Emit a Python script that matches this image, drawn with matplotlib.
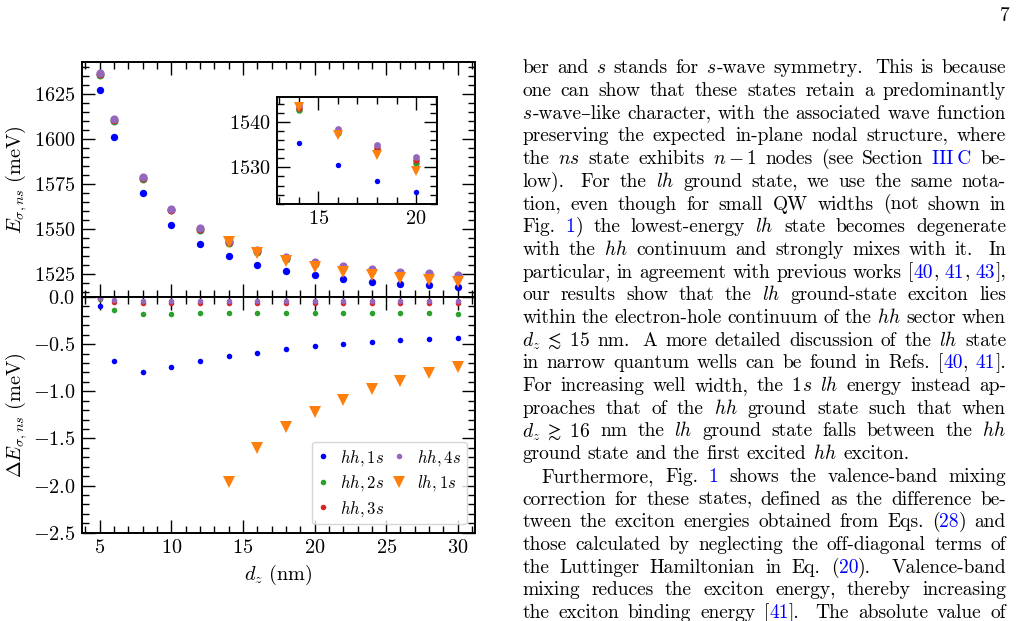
import re
import matplotlib
matplotlib.use("Agg")
import matplotlib.pyplot as plt
from matplotlib.ticker import MultipleLocator, ScalarFormatter
from matplotlib.transforms import IdentityTransform

plt.rcParams['font.family'] = ['cmr10', 'DejaVu Serif']
plt.rcParams['mathtext.fontset'] = 'cm'
plt.rcParams['axes.formatter.use_mathtext'] = True
plt.rcParams['axes.unicode_minus'] = True

# ---------------- data ----------------
dz = [5, 6, 8, 10, 12, 14, 16, 18, 20, 22, 24, 26, 28, 30]
dz_lh = [14, 16, 18, 20, 22, 24, 26, 28, 30]

E_hh1s = [1627.5, 1601.6, 1570.1, 1552.7, 1541.9, 1535.3, 1530.5, 1527.1, 1524.5,
          1522.3, 1521.0, 1519.7, 1519.0, 1518.1]
E_hh2s = [1635.7, 1610.2, 1578.3, 1560.6, 1549.7, 1542.6, 1537.5, 1533.8, 1531.0,
          1528.7, 1526.9, 1525.6, 1524.7, 1523.7]
E_hh3s = [1636.2, 1610.7, 1578.8, 1561.1, 1550.2, 1543.1, 1537.9, 1534.3, 1531.6,
          1529.2, 1527.4, 1526.1, 1525.2, 1524.2]
E_hh4s = [1636.8, 1611.2, 1579.3, 1561.6, 1550.7, 1543.6, 1538.4, 1534.9, 1532.2,
          1529.7, 1527.9, 1526.6, 1525.7, 1524.7]
E_lh1s = [1543.3, 1537.1, 1532.6, 1529.3, 1526.6, 1524.6, 1523.1, 1522.0, 1520.7]

dE_hh1s = [-0.095, -0.68, -0.80, -0.74, -0.68, -0.628, -0.59, -0.554, -0.522,
           -0.497, -0.476, -0.459, -0.444, -0.43]
dE_hh2s = [-0.02, -0.141, -0.176, -0.176, -0.169, -0.166, -0.165, -0.165, -0.165,
           -0.165, -0.165, -0.165, -0.168, -0.176]
dE_hh3s = [-0.01, -0.056, -0.063, -0.063, -0.063, -0.063, -0.063, -0.063, -0.063,
           -0.063, -0.063, -0.063, -0.063, -0.063]
dE_hh4s = [-0.008, -0.035, -0.042, -0.042, -0.042, -0.042, -0.042, -0.042, -0.042,
           -0.042, -0.042, -0.042, -0.042, -0.042]
dE_lh1s = [-1.966, -1.60, -1.384, -1.22, -1.09, -0.978, -0.886, -0.808, -0.745]

labels = [r'$hh,1s$', r'$hh,2s$', r'$hh,3s$', r'$hh,4s$', r'$lh,1s$']
colors = ['#0000ff', '#2ca02c', '#d62728', '#9467bd', '#ff7f0e']

page_number = '7'
paragraph = [
    "ber and $s$ stands for $s$-wave symmetry.  This is because",
    "one can show that these states retain a predominantly",
    "$s$-wave–like character, with the associated wave function",
    "preserving the expected in-plane nodal structure, where",
    "the $ns$ state exhibits $n-1$ nodes (see Section «III\u2009C» be-",
    "low).  For the $lh$ ground state, we use the same nota-",
    "tion, even though for small QW widths (not shown in",
    "Fig. «1») the lowest-energy $lh$ state becomes degenerate",
    "with the $hh$ continuum and strongly mixes with it.  In",
    "particular, in agreement with previous works [«40», «41», «43»],",
    "our results show that the $lh$ ground-state exciton lies",
    "within the electron-hole continuum of the $hh$ sector when",
    r"$d_z\;\lesssim\;15$ nm.  A more detailed discussion of the $lh$ state",
    "in narrow quantum wells can be found in Refs. [«40», «41»].",
    "For increasing well width, the 1$s$ $lh$ energy instead ap-",
    "proaches that of the $hh$ ground state such that when",
    r"$d_z\;\gtrsim\;16$ nm the $lh$ ground state falls between the $hh$",
    "ground state and the first excited $hh$ exciton.",
    "Furthermore, Fig. «1» shows the valence-band mixing",
    "correction for these states, defined as the difference be-",
    "tween the exciton energies obtained from Eqs. («28») and",
    "those calculated by neglecting the off-diagonal terms of",
    "the Luttinger Hamiltonian in Eq. («20»).  Valence-band",
    "mixing reduces the exciton energy, thereby increasing",
    "the exciton binding energy [«41»].  The absolute value of",
]
last_lines = {17}
indent_lines = {18}

# ---------------- figure ----------------
W, H = 1019, 621
fig = plt.figure(figsize=(W / 100, H / 100), dpi=100)


def px_axes(l, t, r, b):
    return fig.add_axes([l / W, 1 - b / H, (r - l) / W, (b - t) / H])


ax1 = px_axes(81.7, 62, 475, 297)
ax2 = px_axes(81.7, 297, 475, 532.7)
axin = px_axes(277.3, 96.7, 436.7, 204)

LS = 14.6


def style(ax, xmaj, xmin, ymaj, ymin):
    for s in ax.spines.values():
        s.set_linewidth(1.4)
    ax.xaxis.set_major_locator(MultipleLocator(xmaj))
    ax.xaxis.set_minor_locator(MultipleLocator(xmin))
    ax.yaxis.set_major_locator(MultipleLocator(ymaj))
    ax.yaxis.set_minor_locator(MultipleLocator(ymin))
    ax.tick_params(which='both', direction='in', top=True, right=True,
                   labelsize=LS, pad=4.5)
    ax.tick_params(which='major', length=9.4, width=1.0)
    ax.tick_params(which='minor', length=4.8, width=1.0)
    ax.yaxis.set_major_formatter(ScalarFormatter(useOffset=False))


# top panel
ms_top = [5.3, 5.7, 5.7, 5.9]
for y, c, ms in zip([E_hh1s, E_hh2s, E_hh3s, E_hh4s], colors[:4], ms_top):
    ax1.plot(dz, y, 'o', color=c, ms=ms, mew=0)
ax1.plot(dz_lh, E_lh1s, 'v', color=colors[4], ms=8.0, mew=0)
ax1.set_xlim(3.75, 31.2)
ax1.set_ylim(1512.5, 1643.05)
style(ax1, 5, 1, 25, 5)
ax1.tick_params(labelbottom=False)
ax1.set_ylabel(r'$E_{\sigma,ns}\ (\mathrm{meV})$', fontsize=LS)

# inset
ms_in = [3.9, 4.7, 4.7, 4.9]
for y, c, ms in zip([E_hh1s, E_hh2s, E_hh3s, E_hh4s], colors[:4], ms_in):
    axin.plot(dz, y, 'o', color=c, ms=ms, mew=0)
axin.plot(dz_lh, E_lh1s, 'v', color=colors[4], ms=7.4, mew=0)
axin.set_xlim(12.9, 21.05)
axin.set_ylim(1521.95, 1545.5)
style(axin, 5, 1, 10, 2)

# bottom panel
handles = []
for y, c, lab in zip([dE_hh1s, dE_hh2s, dE_hh3s, dE_hh4s], colors[:4], labels[:4]):
    h, = ax2.plot(dz, y, 'o', color=c, ms=4.0, mew=0, label=lab)
    handles.append(h)
h, = ax2.plot(dz_lh, dE_lh1s, 'v', color=colors[4], ms=8.6, mew=0, label=labels[4])
handles.append(h)
ax2.set_xlim(3.75, 31.2)
ax2.set_ylim(-2.5, 0.0)
style(ax2, 5, 1, 0.5, 0.1)
ax2.set_xlabel(r'$d_z\ (\mathrm{nm})$', fontsize=LS)
ax2.set_ylabel(r'$\Delta E_{\sigma,ns}\ (\mathrm{meV})$', fontsize=LS)
ax2.legend(handles=handles, ncol=2, loc='lower right', fontsize=12.0,
           handlelength=0.6, handletextpad=0.75, columnspacing=0.6,
           labelspacing=0.33, borderpad=0.35, borderaxespad=0.5)

for ax in (ax1, ax2):
    ax.yaxis.set_label_coords(-0.133, 0.5)

# ---------------- text column ----------------
FS = 14.0
EM = FS * 100 / 72
X0, X1 = 522.3, 1006.0
Y0, DY = 73.3, 22.7
IND = 19.4
LINK = '#0000ff'
renderer = fig.canvas.get_renderer()
ident = IdentityTransform()


def parse_word(w):
    segs = []
    for p in re.split(r'(«[^»]*»|\$[^$]*\$)', w):
        if not p:
            continue
        if p.startswith('«'):
            segs.append((p[1:-1], LINK))
        else:
            segs.append((p, 'black'))
    return segs


for i, line in enumerate(paragraph):
    ybase = H - (Y0 + i * DY)
    words, sent = [], []
    pend = False
    for tok in line.split(' '):
        if tok == '':
            pend = True
            continue
        words.append(tok)
        sent.append(pend)
        pend = False
    wobjs, wwid = [], []
    for w in words:
        objs = []
        for s, c in parse_word(w):
            t = fig.text(0, ybase, s, fontsize=FS, color=c, va='baseline',
                         ha='left', transform=ident)
            objs.append((t, t.get_window_extent(renderer).width))
        wobjs.append(objs)
        wwid.append(sum(o[1] for o in objs))
    x_start = X0 + (IND if i in indent_lines else 0)
    nat = [0.0] + [(0.444 if s else 0.333) * EM for s in sent[1:]]
    wt = [0.0] + [(3.0 if s else 1.0) for s in sent[1:]]
    if i in last_lines:
        gaps = nat
    else:
        extra = (X1 - x_start) - sum(wwid) - sum(nat)
        tot = sum(wt)
        gaps = [n + extra * k / tot for n, k in zip(nat, wt)]
    x = x_start
    for objs, g in zip(wobjs, gaps):
        x += g
        for t, wd in objs:
            t.set_position((x, ybase))
            x += wd

fig.text(1009.3, H - 20.7, page_number, fontsize=FS, ha='right', va='baseline',
         transform=ident)

fig.savefig('out.png', dpi=100)
